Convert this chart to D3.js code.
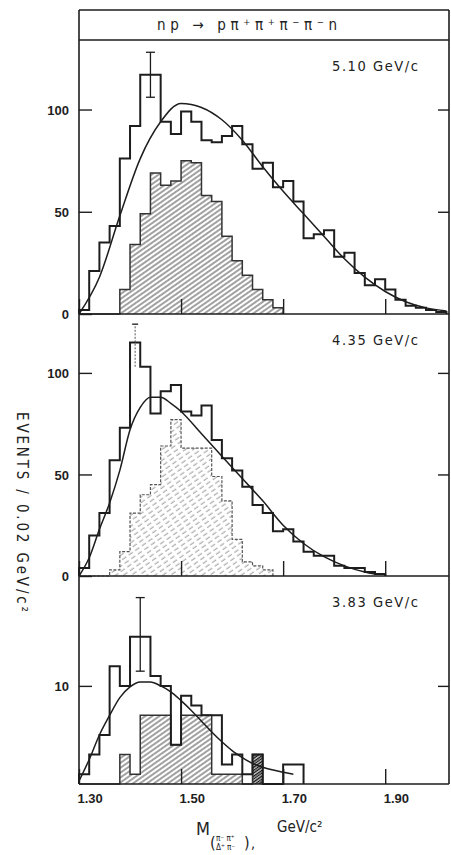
<!DOCTYPE html>
<html lang="en">
<head>
  <meta charset="UTF-8">
  <title>np → pπ⁺π⁺π⁻π⁻n</title>
  <script src="https://d3js.org/d3.v7.min.js"></script>
  <style>
    body { margin: 0; background: #fff; }
    svg { display: block; font-family: "Liberation Sans Narrow", "DejaVu Sans Condensed", "DejaVu Sans", sans-serif; }
    .tick text { fill: #1e1e1e; font-size: 13px; font-weight: bold; }
    .tick line { stroke: #1e1e1e; stroke-width: 1.4; }
  </style>
</head>
<body>
<div id="chart"></div>
<script>
  // histogram bins: 0.02 GeV/c^2 wide, first bin starts at 1.30
  const binStart = 1.30;
  const binWidth = 0.02;

  // 5.10 GeV/c
  const open510 = [2, 21, 35, 43, 76, 92, 117, 117, 94, 88, 99, 94, 85, 84, 87, 92, 83, 71,
                   74, 62, 65, 55, 37, 39, 41, 28, 30, 20, 14, 17, 12, 7, 4, 3, 2, 1];
  const hatch510 = [0, 0, 0, 0, 12, 34, 49, 69, 63, 65, 75, 74, 58, 55, 38, 26, 19, 12, 7, 3];
  const fit510 = [[1.30, 0], [1.34, 18], [1.38, 48], [1.42, 76], [1.46, 94], [1.50, 103],
                  [1.54, 101], [1.58, 95], [1.62, 85], [1.66, 72], [1.70, 60], [1.74, 49],
                  [1.78, 38], [1.82, 27], [1.86, 18], [1.90, 11], [1.94, 6], [1.98, 3], [2.02, 1.5]];
  const err510 = [1.44, 106, 128];

  // 4.35 GeV/c
  const open435 = [4, 20, 31, 57, 73, 115, 103, 80, 91, 94, 81, 79, 84, 67, 58, 52, 44, 35,
                   31, 22, 23, 17, 12, 10, 10, 5, 4, 4, 2, 1];
  const hatch435 = [0, 0, 0, 3, 12, 31, 40, 45, 64, 77, 63, 63, 63, 49, 37, 18, 7, 5, 3];
  const fit435 = [[1.30, 0], [1.32, 9], [1.34, 23], [1.36, 36], [1.38, 52], [1.40, 72],
                  [1.42, 83], [1.44, 88], [1.46, 88], [1.48, 85], [1.50, 81], [1.54, 70],
                  [1.58, 59], [1.62, 48], [1.66, 37], [1.70, 25], [1.74, 16], [1.78, 9.5],
                  [1.82, 5], [1.86, 2], [1.88, 1]];
  const err435 = [1.41, 103, 124];

  // 3.83 GeV/c
  const open383 = [1, 3, 5, 12, 10, 15, 15, 11, 10, 4, 9, 8, 7, 7, 2, 3, 1, 3, 0, 0, 2, 2];
  const hatch383 = [0, 0, 0, 0, 3, 1, 7, 7, 7, 4, 7, 7, 7, 1, 1, 1, 0, 3];
  const dark383 = [[1.64, 3]];
  const fit383 = [[1.30, 0.3], [1.32, 2.5], [1.34, 5], [1.36, 7], [1.38, 8.8], [1.40, 9.9],
                  [1.42, 10.4], [1.44, 10.4], [1.46, 10], [1.48, 9.4], [1.50, 8.5], [1.52, 7.5],
                  [1.54, 6.4], [1.56, 5.3], [1.58, 4.3], [1.60, 3.4], [1.62, 2.7], [1.64, 2.1],
                  [1.66, 1.7], [1.70, 1.2], [1.72, 1.0]];
  const err383 = [1.42, 11.5, 19];

  const momenta = ["5.10 GeV/c", "4.35 GeV/c", "3.83 GeV/c"];
  const xTicks = [1.30, 1.50, 1.70, 1.90];

  const width = 451, height = 855;
  const padL = 79, padR = 449, frameTop = 10, band = 40, frameBottom = 784;
  const ink = "#1d1d1d";

  const panels = [
    { label: momenta[0], open: open510, hatch: hatch510, fit: fit510, err: err510,
      y0: band, y1: 314, max: 134, ticks: [0, 50, 100], fill: "url(#h1)", dashed: false },
    { label: momenta[1], open: open435, hatch: hatch435, fit: fit435, err: err435,
      y0: 314, y1: 576, max: 129, ticks: [0, 50, 100], fill: "url(#h2)", dashed: true },
    { label: momenta[2], open: open383, hatch: hatch383, fit: fit383, err: err383, dark: dark383,
      y0: 576, y1: frameBottom, max: 21.2, ticks: [10], fill: "url(#h1)", dashed: false }
  ];

  const svg = d3.select("#chart").append("svg")
    .attr("width", width)
    .attr("height", height);

  // hatch patterns
  const defs = svg.append("defs");
  const p1 = defs.append("pattern").attr("id", "h1")
    .attr("patternUnits", "userSpaceOnUse")
    .attr("width", 4).attr("height", 4)
    .attr("patternTransform", "rotate(55)");
  p1.append("line").attr("x1", 2).attr("x2", 2).attr("y1", 0).attr("y2", 4)
    .attr("stroke", "#444").attr("stroke-width", 1);

  const p2 = defs.append("pattern").attr("id", "h2")
    .attr("patternUnits", "userSpaceOnUse")
    .attr("width", 4.5).attr("height", 8)
    .attr("patternTransform", "rotate(55)");
  p2.append("line").attr("x1", 2).attr("x2", 2).attr("y1", 0).attr("y2", 5)
    .attr("stroke", "#8a8a8a").attr("stroke-width", 0.9);

  const p3 = defs.append("pattern").attr("id", "h3")
    .attr("patternUnits", "userSpaceOnUse")
    .attr("width", 2.4).attr("height", 2.4)
    .attr("patternTransform", "rotate(55)");
  p3.append("line").attr("x1", 1.2).attr("x2", 1.2).attr("y1", 0).attr("y2", 2.4)
    .attr("stroke", "#111").attr("stroke-width", 1.3);

  const x = d3.scaleLinear().domain([1.30, 2.025]).range([padL, padR]);

  // outline of a histogram, closed down to zero at both ends
  function stepPoints(vals) {
    const pts = [[binStart, 0]];
    vals.forEach((v, i) => pts.push([binStart + i * binWidth, v]));
    pts.push([binStart + vals.length * binWidth, 0]);
    return pts;
  }

  panels.forEach((p, idx) => {
    const y = d3.scaleLinear().domain([0, p.max]).range([p.y1, p.y0]);
    const g = svg.append("g");

    const stepLine = d3.line()
      .x(d => x(d[0])).y(d => y(d[1]))
      .curve(d3.curveStepAfter);

    const stepArea = d3.area()
      .x(d => x(d[0])).y0(y(0)).y1(d => y(d[1]))
      .curve(d3.curveStepAfter);

    // hatched sub-sample
    const hPts = p.hatch.map((v, i) => [binStart + i * binWidth, v]);
    hPts.push([binStart + p.hatch.length * binWidth, p.hatch[p.hatch.length - 1]]);
    g.append("path")
      .attr("d", stepArea(hPts))
      .attr("fill", p.fill)
      .attr("stroke", "none");

    if (p.dark) {
      p.dark.forEach(d => {
        g.append("path")
          .attr("d", stepArea([d, [d[0] + binWidth, d[1]]]))
          .attr("fill", "url(#h3)");
      });
    }

    g.append("path")
      .attr("d", stepLine(stepPoints(p.hatch)))
      .attr("fill", "none")
      .attr("stroke", p.dashed ? "#555" : "#333")
      .attr("stroke-width", p.dashed ? 1.2 : 1.5)
      .attr("stroke-dasharray", p.dashed ? "3 1.5" : null);

    // full sample
    g.append("path")
      .attr("d", stepLine(stepPoints(p.open)))
      .attr("fill", "none")
      .attr("stroke", ink)
      .attr("stroke-width", 2)
      .attr("stroke-linejoin", "miter");

    // fitted curve
    g.append("path")
      .datum(p.fit)
      .attr("d", d3.line().x(d => x(d[0])).y(d => y(d[1])).curve(d3.curveMonotoneX))
      .attr("fill", "none")
      .attr("stroke", ink)
      .attr("stroke-width", 1.5);

    // error bar
    const [ex, elo, ehi] = p.err;
    g.append("line")
      .attr("x1", x(ex)).attr("x2", x(ex))
      .attr("y1", y(elo)).attr("y2", y(ehi))
      .attr("stroke", p.dashed ? "#555" : ink)
      .attr("stroke-width", p.dashed ? 1 : 1.3)
      .attr("stroke-dasharray", p.dashed ? "2 1.5" : null);
    const caps = p.dashed ? [ehi] : [elo, ehi];
    caps.forEach(c => {
      g.append("line")
        .attr("x1", x(ex) - (p.dashed ? 3 : 4.5)).attr("x2", x(ex) + (p.dashed ? 3 : 4.5))
        .attr("y1", y(c)).attr("y2", y(c))
        .attr("stroke", ink).attr("stroke-width", 1.3);
    });

    // axes with inward ticks
    g.append("g")
      .attr("transform", `translate(${padL},0)`)
      .call(d3.axisLeft(y).tickValues(p.ticks).tickSize(-13).tickPadding(10))
      .call(a => a.select(".domain").remove())
      .call(a => a.selectAll(".tick text").attr("dy", "0.36em"));

    g.append("g")
      .attr("transform", `translate(${padR},0)`)
      .call(d3.axisRight(y).tickValues(p.ticks.filter(t => t > 0)).tickSize(-11).tickFormat(""))
      .call(a => a.select(".domain").remove());

    const xa = g.append("g")
      .attr("transform", `translate(0,${p.y1})`)
      .call(d3.axisBottom(x).tickValues(xTicks).tickSize(-15).tickPadding(10)
        .tickFormat(idx === 2 ? d3.format(".2f") : ""))
      .call(a => a.select(".domain").remove());
    xa.selectAll(".tick text")
      .attr("text-anchor", "start")
      .attr("dx", -2);

    // momentum label
    g.append("text")
      .attr("x", 332)
      .attr("y", p.y0 + 31)
      .attr("font-size", 14.5)
      .attr("fill", "#222")
      .attr("textLength", 86)
      .attr("lengthAdjust", "spacing")
      .text(p.label);

    // panel bottom line
    svg.append("line")
      .attr("x1", padL).attr("x2", padR)
      .attr("y1", p.y1).attr("y2", p.y1)
      .attr("stroke", ink).attr("stroke-width", 1.6);
  });

  // frame and title band
  svg.append("line").attr("x1", padL).attr("x2", padR).attr("y1", frameTop).attr("y2", frameTop)
    .attr("stroke", ink).attr("stroke-width", 1.6);
  svg.append("line").attr("x1", padL).attr("x2", padR).attr("y1", band).attr("y2", band)
    .attr("stroke", ink).attr("stroke-width", 1.6);
  svg.append("line").attr("x1", padL).attr("x2", padL).attr("y1", frameTop).attr("y2", frameBottom)
    .attr("stroke", ink).attr("stroke-width", 1.6);
  svg.append("line").attr("x1", padR).attr("x2", padR).attr("y1", frameTop).attr("y2", frameBottom)
    .attr("stroke", ink).attr("stroke-width", 1.6);

  svg.append("text")
    .attr("x", 157).attr("y", 30)
    .attr("font-size", 15)
    .attr("fill", "#222")
    .attr("textLength", 180)
    .attr("lengthAdjust", "spacing")
    .text("np → pπ⁺π⁺π⁻π⁻n");

  // y title
  svg.append("text")
    .attr("transform", "translate(17,512) rotate(90)")
    .attr("text-anchor", "middle")
    .attr("font-size", 15)
    .attr("fill", "#222")
    .attr("textLength", 200)
    .attr("lengthAdjust", "spacing")
    .text("EVENTS / 0.02 GeV/c²");

  // x title
  const xt = svg.append("g").attr("fill", "#222");
  xt.append("text").attr("x", 196).attr("y", 835).attr("font-size", 18).text("M");
  xt.append("text").attr("x", 210).attr("y", 848).attr("font-size", 16).text("(");
  xt.append("text").attr("x", 216).attr("y", 841).attr("font-size", 8).text("π⁻ π⁺");
  xt.append("text").attr("x", 216).attr("y", 850).attr("font-size", 8).text("Δ⁺ π⁻");
  xt.append("text").attr("x", 244).attr("y", 848).attr("font-size", 16).text(")");
  xt.append("text").attr("x", 251).attr("y", 848).attr("font-size", 14).text(",");
  xt.append("text").attr("x", 277).attr("y", 832).attr("font-size", 15).text("GeV/c²");
</script>
</body>
</html>
